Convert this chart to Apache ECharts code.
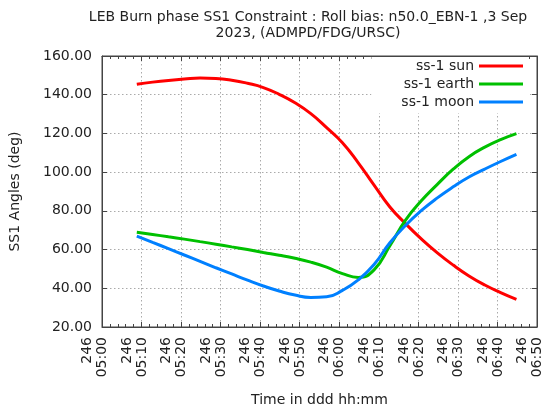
<!DOCTYPE html>
<html>
<head>
<meta charset="utf-8">
<script src="https://cdn.jsdelivr.net/npm/echarts@6/dist/echarts.min.js"></script>
<style>html,body{margin:0;padding:0;background:#fff}#c{width:553px;height:412px}</style>
</head>
<body>
<div id="c"></div>
<script>
// minutes after 05:00 (day 246)
const times = [8.8, 12.8, 16.8, 20.8, 24.8, 28.8, 32.8, 36.8, 40.8, 44.8, 48.8, 52.8, 56.8, 60.8, 64.8, 68.8, 72.8, 76.8, 80.8, 84.8, 88.8, 92.8, 96.8, 100.8, 104.8];
const sunAngles = [145.4, 146.5, 147.4, 148.1, 148.6, 148.4, 147.5, 145.9, 143.7, 140.2, 135.8, 130.2, 123.0, 115.2, 104.8, 93.3, 82.0, 73.3, 65.4, 58.3, 52.0, 46.4, 41.7, 37.8, 34.3];
const earthAngles = [68.9, 67.8, 66.6, 65.4, 64.1, 62.8, 61.4, 60.0, 58.5, 57.1, 55.5, 53.5, 50.9, 47.6, 45.6, 49.5, 62.0, 75.3, 85.3, 93.7, 101.5, 108.0, 112.9, 116.8, 119.9];
const moonAngles = [66.9, 63.7, 60.5, 57.2, 53.9, 50.6, 47.4, 44.2, 41.2, 38.6, 36.5, 35.3, 35.6, 38.9, 44.3, 52.3, 63.5, 72.6, 80.2, 86.7, 92.4, 97.5, 101.6, 105.5, 109.2];
const seriesNames = ['ss-1 sun', 'ss-1 earth', 'ss-1 moon'];
const seriesColors = ['#ff0000', '#00c000', '#0080ff'];
const dayOfYear = '246';
const titleText = 'LEB Burn phase SS1 Constraint : Roll bias: n50.0_EBN-1 ,3 Sep\n2023, (ADMPD/FDG/URSC)';

function fmtTime(m) {
  const tot = 5 * 60 + Math.round(m);
  const h = Math.floor(tot / 60), mm = tot % 60;
  return '{a|' + dayOfYear + '}\n{a|' + String(h).padStart(2, '0') + ':' + String(mm).padStart(2, '0') + '}\n{s| }';
}
const font = 'DejaVu Sans';
const txt = '#222';
const pair = vals => times.map((t, i) => [t, vals[i]]);
const allVals = [sunAngles, earthAngles, moonAngles];

const chart = echarts.init(document.getElementById('c'), null, {renderer: 'canvas'});
const gridLine = {show: true, lineStyle: {color: '#aaa', width: 1, type: [1.5, 2.5]}};
chart.setOption({
  backgroundColor: '#fff',
  animation: false,
  textStyle: {fontFamily: font},
  title: {
    text: titleText, left: 303, top: 5, textAlign: 'center',
    textStyle: {fontFamily: font, fontSize: 14, fontWeight: 'normal', color: txt, lineHeight: 15.5}
  },
  grid: {left: 102, right: 11, top: 56, bottom: 85, show: true, borderColor: '#444', borderWidth: 1, backgroundColor: 'transparent'},
  legend: {
    orient: 'vertical', right: 24, top: 57, align: 'right',
    itemWidth: 44, itemHeight: 3, itemGap: 4,
    backgroundColor: '#fff', padding: [2, 6, 4, 30],
    textStyle: {fontFamily: font, fontSize: 14, color: txt, lineHeight: 14},
    data: seriesNames.map(n => ({name: n, icon: 'rect'}))
  },
  xAxis: [{
    type: 'value', min: 0, max: 110, interval: 10,
    name: 'Time in ddd hh:mm', nameLocation: 'middle', nameGap: 66,
    nameTextStyle: {fontFamily: font, fontSize: 14, color: txt},
    axisLine: {show: true, onZero: false, lineStyle: {color: '#444'}},
    axisTick: {show: true, inside: true, length: 5, lineStyle: {color: '#444'}},
    minorTick: {show: true, splitNumber: 5, length: 3, lineStyle: {color: '#444'}},
    axisLabel: {
      rotate: 90, margin: 10, showMinLabel: true, showMaxLabel: true, hideOverlap: false,
      fontFamily: font, fontSize: 14, color: txt, formatter: fmtTime,
      rich: {a: {fontFamily: font, fontSize: 14, lineHeight: 15, color: txt}, s: {fontSize: 2, lineHeight: 14}}
    },
    splitLine: gridLine
  }, {
    type: 'value', position: 'top', min: 0, max: 110, interval: 10,
    axisLine: {show: true, onZero: false, lineStyle: {color: '#444'}},
    axisTick: {show: true, inside: true, length: 5, lineStyle: {color: '#444'}},
    minorTick: {show: true, splitNumber: 5, length: 3, lineStyle: {color: '#444'}},
    axisLabel: {show: false}, splitLine: {show: false}
  }],
  yAxis: [{
    type: 'value', min: 20, max: 160, interval: 20,
    name: 'SS1 Angles (deg)', nameLocation: 'middle', nameGap: 80,
    nameTextStyle: {fontFamily: font, fontSize: 14, color: txt},
    axisLine: {show: true, onZero: false, lineStyle: {color: '#444'}},
    axisTick: {show: true, inside: true, length: 5, lineStyle: {color: '#444'}},
    axisLabel: {margin: 10, fontFamily: font, fontSize: 14, color: txt, formatter: v => v.toFixed(2)},
    splitLine: gridLine
  }, {
    type: 'value', position: 'right', min: 20, max: 160, interval: 20,
    axisLine: {show: true, onZero: false, lineStyle: {color: '#444'}},
    axisTick: {show: true, inside: true, length: 5, lineStyle: {color: '#444'}},
    axisLabel: {show: false}, splitLine: {show: false}
  }],
  series: seriesNames.map((n, i) => ({
    name: n, type: 'line', smooth: 0.5, showSymbol: false, symbol: 'none',
    data: pair(allVals[i]),
    lineStyle: {color: seriesColors[i], width: 3},
    itemStyle: {color: seriesColors[i]}
  }))
});
</script>
</body>
</html>
